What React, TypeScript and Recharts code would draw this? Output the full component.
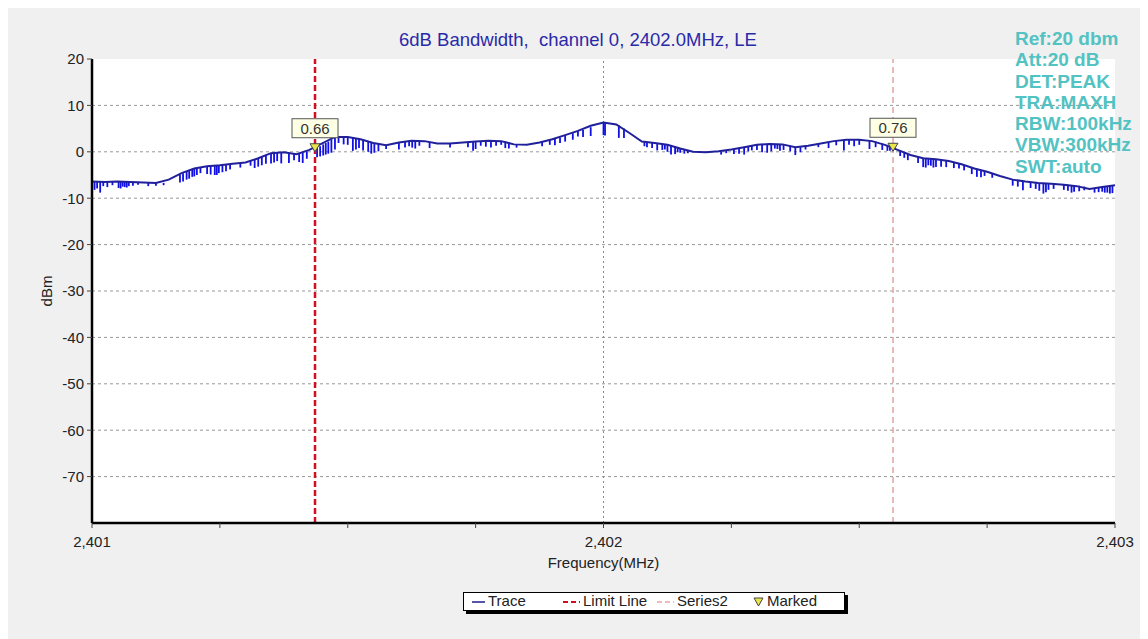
import React from 'react';
import {
    ComposedChart,
    Line,
    Scatter,
    ErrorBar,
    XAxis,
    YAxis,
    CartesianGrid,
    ReferenceLine,
} from 'recharts';

// spectrum envelope, [frequency MHz, level dBm]
const trace: [number, number][] = [
    [2401.000, -6.4], [2401.025, -6.5], [2401.050, -6.4], [2401.075, -6.5], [2401.100, -6.6],
    [2401.125, -6.7], [2401.150, -6.0], [2401.175, -4.6], [2401.200, -3.6], [2401.225, -3.1],
    [2401.250, -2.9], [2401.275, -2.6], [2401.300, -2.3], [2401.325, -1.4], [2401.350, -0.3],
    [2401.375, -0.1], [2401.400, -0.5], [2401.425, 0.4], [2401.450, 1.8], [2401.475, 3.2],
    [2401.500, 3.2], [2401.525, 2.7], [2401.550, 1.9], [2401.575, 1.4], [2401.600, 2.0],
    [2401.625, 2.4], [2401.650, 2.3], [2401.675, 1.8], [2401.700, 1.8], [2401.725, 2.0],
    [2401.750, 2.2], [2401.775, 2.4], [2401.800, 2.3], [2401.825, 1.6], [2401.850, 1.5],
    [2401.875, 2.0], [2401.900, 2.7], [2401.925, 3.6], [2401.950, 4.5], [2401.975, 5.6],
    [2402.000, 6.3], [2402.025, 5.9], [2402.050, 4.1], [2402.075, 2.2], [2402.100, 1.9],
    [2402.125, 1.5], [2402.150, 0.7], [2402.175, 0.0], [2402.200, -0.1], [2402.225, 0.1],
    [2402.250, 0.5], [2402.275, 1.0], [2402.300, 1.5], [2402.325, 1.7], [2402.350, 1.6],
    [2402.375, 1.0], [2402.400, 1.3], [2402.425, 1.8], [2402.450, 2.3], [2402.475, 2.6],
    [2402.500, 2.6], [2402.525, 2.3], [2402.550, 1.5], [2402.575, 0.4], [2402.600, -0.7],
    [2402.625, -1.4], [2402.650, -1.6], [2402.675, -2.0], [2402.700, -2.7], [2402.725, -3.6],
    [2402.750, -4.3], [2402.775, -5.2], [2402.800, -6.0], [2402.825, -6.4], [2402.850, -6.7],
    [2402.875, -6.9], [2402.900, -7.1], [2402.925, -7.4], [2402.950, -8.0], [2402.975, -7.6],
    [2403.000, -7.2],
];

// downward spikes of the max-hold trace, [frequency, top, bottom]
const dips: [number, number, number][] = [
    [2401.005, -6.4, -8.2], [2401.016, -6.5, -8.8], [2401.030, -6.5, -7.6], [2401.052, -6.4, -7.8],
    [2401.060, -6.4, -7.5], [2401.068, -6.5, -7.7], [2401.080, -6.5, -7.3], [2401.110, -6.6, -7.4],
    [2401.140, -6.7, -7.2], [2401.172, -4.9, -6.6], [2401.185, -4.2, -6.0], [2401.196, -3.7, -5.4],
    [2401.205, -3.5, -5.0], [2401.225, -3.1, -4.8], [2401.240, -3.0, -5.0], [2401.248, -2.9, -4.6],
    [2401.262, -2.8, -4.2], [2401.290, -2.4, -3.4], [2401.318, -1.7, -3.5], [2401.332, -1.1, -2.9],
    [2401.350, -0.3, -2.5], [2401.362, -0.2, -2.0], [2401.385, -0.2, -2.4], [2401.405, -0.4, -2.2],
    [2401.420, 0.1, -1.5], [2401.440, 0.8, -1.2], [2401.452, 1.6, -0.8], [2401.462, 2.2, -0.4],
    [2401.475, 3.2, 0.5], [2401.492, 3.4, 1.6], [2401.510, 3.0, 0.2], [2401.522, 2.8, 0.8],
    [2401.540, 2.2, 0.0], [2401.552, 1.9, -0.2], [2401.575, 1.4, 0.6], [2401.600, 2.0, 0.5],
    [2401.620, 2.4, 1.2], [2401.632, 2.3, 0.7], [2401.660, 2.1, 0.8], [2401.700, 1.8, 0.9],
    [2401.735, 2.1, 1.0], [2401.745, 2.1, 0.2], [2401.760, 2.3, 1.3], [2401.780, 2.4, 0.9],
    [2401.800, 2.3, 1.5], [2401.815, 2.0, 0.7], [2401.830, 1.6, 0.9], [2401.880, 2.1, 1.2],
    [2401.905, 2.8, 1.4], [2401.915, 3.1, 1.9], [2401.940, 4.0, 2.6], [2401.960, 4.7, 3.2],
    [2401.975, 5.3, 3.4], [2402.000, 6.3, 3.6], [2402.030, 5.7, 3.0], [2402.040, 5.0, 3.0],
    [2402.080, 2.2, 1.2], [2402.095, 2.0, 0.8], [2402.115, 1.6, 0.4], [2402.125, 1.5, 0.0],
    [2402.140, 1.2, -0.5], [2402.150, 0.8, -0.2], [2402.165, 0.3, -0.3], [2402.230, 0.1, -0.6],
    [2402.255, 0.5, -0.5], [2402.275, 1.0, -0.6], [2402.283, 1.1, 0.1], [2402.300, 1.5, 0.4],
    [2402.320, 1.7, -0.2], [2402.335, 1.7, 0.7], [2402.345, 1.6, 0.2], [2402.375, 1.0, -0.7],
    [2402.395, 1.2, 0.5], [2402.440, 2.2, 0.8], [2402.470, 2.6, 0.3], [2402.490, 2.6, 1.2],
    [2402.520, 2.4, 0.6], [2402.545, 1.8, 0.4], [2402.555, 1.5, 0.2], [2402.580, 0.3, -0.9],
    [2402.595, -0.5, -1.8], [2402.625, -1.3, -3.3], [2402.635, -1.4, -2.9], [2402.645, -1.5, -3.4],
    [2402.660, -1.7, -3.2], [2402.685, -2.2, -3.5], [2402.705, -2.8, -4.0], [2402.730, -3.7, -5.4],
    [2402.745, -4.2, -5.2], [2402.800, -6.0, -7.3], [2402.820, -6.3, -8.3], [2402.845, -6.6, -8.0],
    [2402.860, -6.8, -9.0], [2402.870, -6.9, -8.2], [2402.900, -7.1, -8.2], [2402.915, -7.2, -8.8],
    [2402.930, -7.3, -8.5], [2402.960, -7.8, -8.8], [2402.975, -7.6, -8.6], [2402.985, -7.4, -8.8],
    [2402.995, -7.2, -8.9],
    [2401.010, -6.4, -7.9], [2401.022, -6.5, -7.4], [2401.040, -6.5, -7.2], [2401.056, -6.4, -7.9],
    [2401.064, -6.4, -7.6], [2401.072, -6.5, -7.4], [2401.090, -6.5, -7.1], [2401.125, -6.7, -7.3],
    [2401.178, -4.6, -6.4], [2401.190, -4.0, -5.8], [2401.200, -3.6, -5.3], [2401.212, -3.3, -4.6],
    [2401.232, -3.0, -4.9], [2401.244, -2.9, -5.0], [2401.255, -2.9, -4.4], [2401.270, -2.7, -3.8],
    [2401.310, -2.0, -3.0], [2401.325, -1.4, -3.2], [2401.340, -0.8, -2.6], [2401.356, -0.2, -2.3],
    [2401.370, -0.1, -2.5], [2401.395, -0.3, -1.8], [2401.412, -0.2, -2.4], [2401.446, 1.2, -1.0],
    [2401.457, 1.9, -0.6], [2401.468, 2.7, -0.2], [2401.482, 3.3, 1.9], [2401.500, 3.2, 1.5],
    [2401.516, 2.9, 0.5], [2401.530, 2.6, 0.3], [2401.546, 2.0, -0.4], [2401.560, 1.7, 0.1],
    [2401.612, 2.2, 0.9], [2401.626, 2.4, 0.9], [2401.640, 2.3, 1.3], [2401.750, 2.2, 0.6],
    [2401.770, 2.3, 1.1], [2401.790, 2.4, 1.3], [2401.808, 2.2, 0.8], [2401.895, 2.5, 1.5],
    [2401.925, 3.6, 2.2], [2401.950, 4.5, 3.3], [2402.003, 6.3, 3.5], [2402.085, 2.1, 1.0],
    [2402.105, 1.8, 0.3], [2402.120, 1.6, 0.5], [2402.132, 1.4, -0.6], [2402.145, 1.0, -0.1],
    [2402.158, 0.6, -0.4], [2402.240, 0.3, -0.3], [2402.265, 0.8, -0.4], [2402.290, 1.3, 0.3],
    [2402.310, 1.6, -0.1], [2402.328, 1.7, 0.1], [2402.340, 1.7, 0.6], [2402.352, 1.6, 0.4],
    [2402.365, 1.3, 0.1], [2402.385, 1.0, -0.1], [2402.420, 1.8, 1.0], [2402.455, 2.4, 1.4],
    [2402.480, 2.6, 1.5], [2402.500, 2.6, 1.5], [2402.532, 2.2, 1.0], [2402.560, 1.2, 0.2],
    [2402.588, -0.1, -1.3], [2402.615, -1.2, -2.4], [2402.630, -1.4, -3.4], [2402.640, -1.5, -3.0],
    [2402.650, -1.6, -3.3], [2402.670, -1.9, -3.3], [2402.695, -2.5, -3.6], [2402.720, -3.3, -4.8],
    [2402.738, -4.0, -5.5], [2402.760, -4.6, -5.6], [2402.810, -6.2, -7.5], [2402.835, -6.5, -7.8],
    [2402.852, -6.7, -8.4], [2402.865, -6.8, -8.7], [2402.880, -6.9, -8.0], [2402.908, -7.1, -8.4],
    [2402.920, -7.2, -8.6], [2402.940, -7.5, -8.3], [2402.968, -7.7, -8.7], [2402.980, -7.5, -8.8],
    [2402.990, -7.3, -9.0],
];

const markerFreqs = [2401.436, 2402.566];
const markerLevels = [0.66, 0.76];
const limitFreq = 2401.436;
const series2Freq = 2402.566;
const centerFreq = 2402;

const yTicks = [20, 10, 0, -10, -20, -30, -40, -50, -60, -70];
const gridLevels = [10, 0, -10, -20, -30, -40, -50, -60, -70];
const xTicks = [2401, 2401.25, 2401.5, 2401.75, 2402, 2402.25, 2402.5, 2402.75, 2403];

const title = '6dB Bandwidth,  channel 0, 2402.0MHz, LE';
const infoLines = ['Ref:20 dbm', 'Att:20 dB', 'DET:PEAK', 'TRA:MAXH', 'RBW:100kHz', 'VBW:300kHz', 'SWT:auto'];

const FONT = '"Liberation Sans", Arial, sans-serif';

const traceData = trace.map(([f, v]) => ({ f, v }));
const dipData = dips.map(([f, top, low]) => ({ f, v: top, err: [top - low, 0] }));
const markerData = markerFreqs.map((f, i) => ({ f, v: markerLevels[i] }));
const limitData = [{ f: limitFreq, v: -80 }, { f: limitFreq, v: 20 }];
const series2Data = [{ f: series2Freq, v: -80 }, { f: series2Freq, v: 20 }];

const MarkerShape = (props: any) => {
    const { cx, cy, payload } = props;
    return (
        <g>
            <rect x={cx - 23} y={cy - 30} width={46} height={19} fill="#ffffe6" stroke="#555" strokeWidth={1} />
            <text x={cx} y={cy - 15} textAnchor="middle" fontSize={15} fill="#333" fontFamily={FONT}>
                {payload.v.toFixed(2)}
            </text>
            <path d={`M${cx - 5},${cy - 5} L${cx + 5},${cy - 5} L${cx},${cy + 3} Z`} fill="#e6e64a" stroke="#444" strokeWidth={1} />
        </g>
    );
};

const fmtFreq = (v: number) => (Number.isInteger(v) ? v.toLocaleString('en-US') : '');

const Legend = () => (
    <div
        style={{
            position: 'absolute',
            left: 455,
            top: 584,
            width: 380,
            height: 17,
            background: '#fff',
            border: '1px solid #000',
            boxShadow: '3px 3px 0 #000',
            fontFamily: FONT,
            fontSize: 15,
            color: '#222',
        }}
    >
        <svg style={{ position: 'absolute', left: 8, top: 8 }} width={14} height={3}>
            <line x1={0} y1={1} x2={13} y2={1} stroke="#1c1c8c" strokeWidth={1.5} />
        </svg>
        <span style={{ position: 'absolute', left: 24, top: -1 }}>Trace</span>
        <svg style={{ position: 'absolute', left: 99, top: 7 }} width={17} height={4}>
            <line x1={0} y1={2} x2={17} y2={2} stroke="#d01020" strokeWidth={2} strokeDasharray="5 3" />
        </svg>
        <span style={{ position: 'absolute', left: 119, top: -1 }}>Limit Line</span>
        <svg style={{ position: 'absolute', left: 193, top: 7 }} width={17} height={4}>
            <line x1={0} y1={2} x2={17} y2={2} stroke="#e8a8a8" strokeWidth={1.5} strokeDasharray="5 3" />
        </svg>
        <span style={{ position: 'absolute', left: 213, top: -1 }}>Series2</span>
        <svg style={{ position: 'absolute', left: 289, top: 4 }} width={11} height={10}>
            <path d="M1,1 L10,1 L5.5,9 Z" fill="#e6e64a" stroke="#444" strokeWidth={1} />
        </svg>
        <span style={{ position: 'absolute', left: 303, top: -1 }}>Marked</span>
    </div>
);

const App: React.FC = () => {
    return (
        <div style={{ position: 'relative', width: 1140, height: 631, background: '#f0f0f0', fontFamily: FONT }}>
            <div
                style={{
                    position: 'absolute',
                    left: 0,
                    width: 1140,
                    top: 23,
                    textAlign: 'center',
                    fontSize: 18.5,
                    lineHeight: 1,
                    color: '#2a2aa8',
                    whiteSpace: 'pre',
                }}
            >
                {title}
            </div>
            <ComposedChart width={1140} height={631} margin={{ top: 51, right: 33, left: 0, bottom: 66 }}>
                <CartesianGrid
                    fill="#ffffff"
                    fillOpacity={1}
                    vertical={false}
                    horizontalValues={gridLevels}
                    stroke="#999"
                    strokeDasharray="3 3"
                />
                <XAxis
                    dataKey="f"
                    type="number"
                    domain={[2401, 2403]}
                    ticks={xTicks}
                    tickFormatter={fmtFreq}
                    interval={0}
                    height={50}
                    tickSize={5}
                    tickMargin={8}
                    stroke="#000"
                    strokeWidth={2.5}
                    tick={{ fill: '#222', fontSize: 15, fontFamily: FONT }}
                    tickLine={{ stroke: '#444', strokeWidth: 1 }}
                    label={{ value: 'Frequency(MHz)', position: 'insideBottom', offset: 5, fill: '#222', fontSize: 15, fontFamily: FONT }}
                />
                <YAxis
                    dataKey="v"
                    type="number"
                    domain={[-80, 20]}
                    ticks={yTicks}
                    interval={0}
                    width={84}
                    tickSize={5}
                    tickMargin={3}
                    stroke="#000"
                    strokeWidth={2.5}
                    tick={{ fill: '#222', fontSize: 15, fontFamily: FONT }}
                    tickLine={{ stroke: '#444', strokeWidth: 1 }}
                    label={{ value: 'dBm', angle: -90, position: 'insideLeft', offset: 39, fill: '#222', fontSize: 15, fontFamily: FONT, style: { textAnchor: 'middle' } }}
                />
                <ReferenceLine x={centerFreq} stroke="#888" strokeDasharray="2 3" strokeWidth={1} />
                <Line
                    data={series2Data}
                    dataKey="v"
                    stroke="#e3a4a4"
                    strokeWidth={1.5}
                    strokeDasharray="6 4"
                    dot={false}
                    isAnimationActive={false}
                />
                <Scatter data={dipData} dataKey="v" shape={() => <g />} isAnimationActive={false}>
                    <ErrorBar dataKey="err" direction="y" width={0} stroke="#1010e6" strokeWidth={1.8} isAnimationActive={false} />
                </Scatter>
                <Line
                    data={traceData}
                    dataKey="v"
                    type="linear"
                    stroke="#20209a"
                    strokeWidth={2}
                    dot={false}
                    isAnimationActive={false}
                />
                <Line
                    data={limitData}
                    dataKey="v"
                    stroke="#d01020"
                    strokeWidth={2.5}
                    strokeDasharray="6 3"
                    dot={false}
                    isAnimationActive={false}
                />
                <Scatter data={markerData} dataKey="v" shape={<MarkerShape />} isAnimationActive={false} />
            </ComposedChart>
            <div
                style={{
                    position: 'absolute',
                    left: 1007,
                    top: 20,
                    fontSize: 19,
                    fontWeight: 'bold',
                    lineHeight: '21.3px',
                    color: '#52c2c2',
                }}
            >
                {infoLines.map((t) => (
                    <div key={t}>{t}</div>
                ))}
            </div>
            <Legend />
        </div>
    );
};

export default App;
